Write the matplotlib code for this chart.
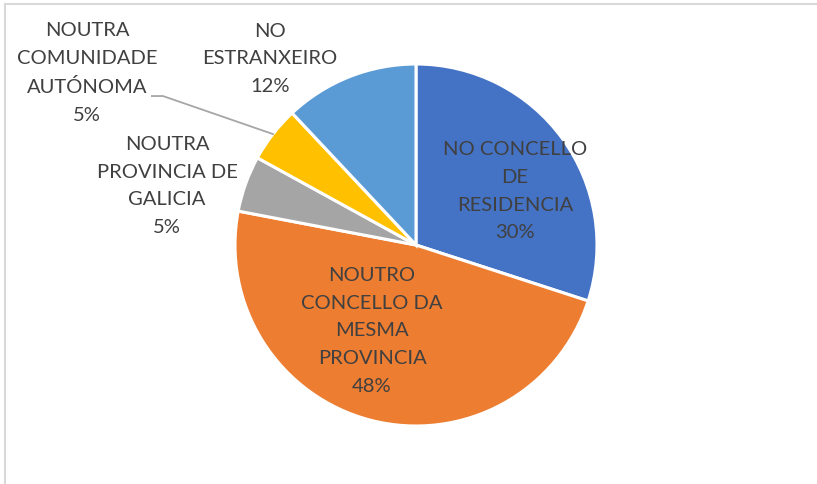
import numpy as np
import matplotlib
matplotlib.use("Agg")
import matplotlib.pyplot as plt
from matplotlib.lines import Line2D

# datos (porcentaxes)
categorias = ["NO CONCELLO\nDE\nRESIDENCIA",
              "NOUTRO\nCONCELLO DA\nMESMA\nPROVINCIA",
              "NOUTRA\nPROVINCIA DE\nGALICIA",
              "NOUTRA\nCOMUNIDADE\nAUTÓNOMA",
              "NO\nESTRANXEIRO"]
valores = [30, 48, 5, 5, 12]
cores = ["#4472C4", "#ED7D31", "#A5A5A5", "#FFC000", "#5B9BD5"]

W, H = 817, 484
fig = plt.figure(figsize=(W / 100, H / 100), dpi=100)

# centro e raio da tarta en píxeles
cx, cy, r = 416, 245, 181
ax = fig.add_axes([(cx - r) / W, (H - cy - r) / H, 2 * r / W, 2 * r / H])

wedges, _ = ax.pie(valores, colors=cores, startangle=90, counterclock=False,
                   radius=1, wedgeprops=dict(edgecolor="white", linewidth=2.2))
ax.set_xlim(-1, 1)
ax.set_ylim(-1, 1)
ax.set_aspect("auto")
ax.axis("off")

# posicións das etiquetas (coordenadas de datos)
pos_etiquetas = [(0.547, 0.298), (-0.243, -0.475), (-1.376, 0.326),
                 (-1.818, 0.950), (-0.807, 1.028)]

total = sum(valores)
for cat, v, (x, y) in zip(categorias, valores, pos_etiquetas):
    txt = f"{cat}\n{round(100 * v / total)}%"
    ax.text(x, y, txt, ha="center", va="center", fontsize=14.5,
            family="Lato", color="#404040", linespacing=1.78, clip_on=False)

# liña guía para NOUTRA COMUNIDADE AUTÓNOMA
w = wedges[3]
ang = np.deg2rad((w.theta1 + w.theta2) / 2)
ex, ey = np.cos(ang) * 1.0, np.sin(ang) * 1.0
ax.plot([-1.459, -1.398, ex], [0.823, 0.823, ey], color="#A6A6A6",
        linewidth=1.3, clip_on=False)

# bordo do área do gráfico (só arriba e á esquerda)
fig.add_artist(Line2D([5 / W, 5 / W], [0, 1 - 4 / H], color="#D9D9D9", linewidth=1.5))
fig.add_artist(Line2D([5 / W, 1], [1 - 4 / H, 1 - 4 / H], color="#D9D9D9", linewidth=1.5))

fig.savefig("out.png", dpi=100)
